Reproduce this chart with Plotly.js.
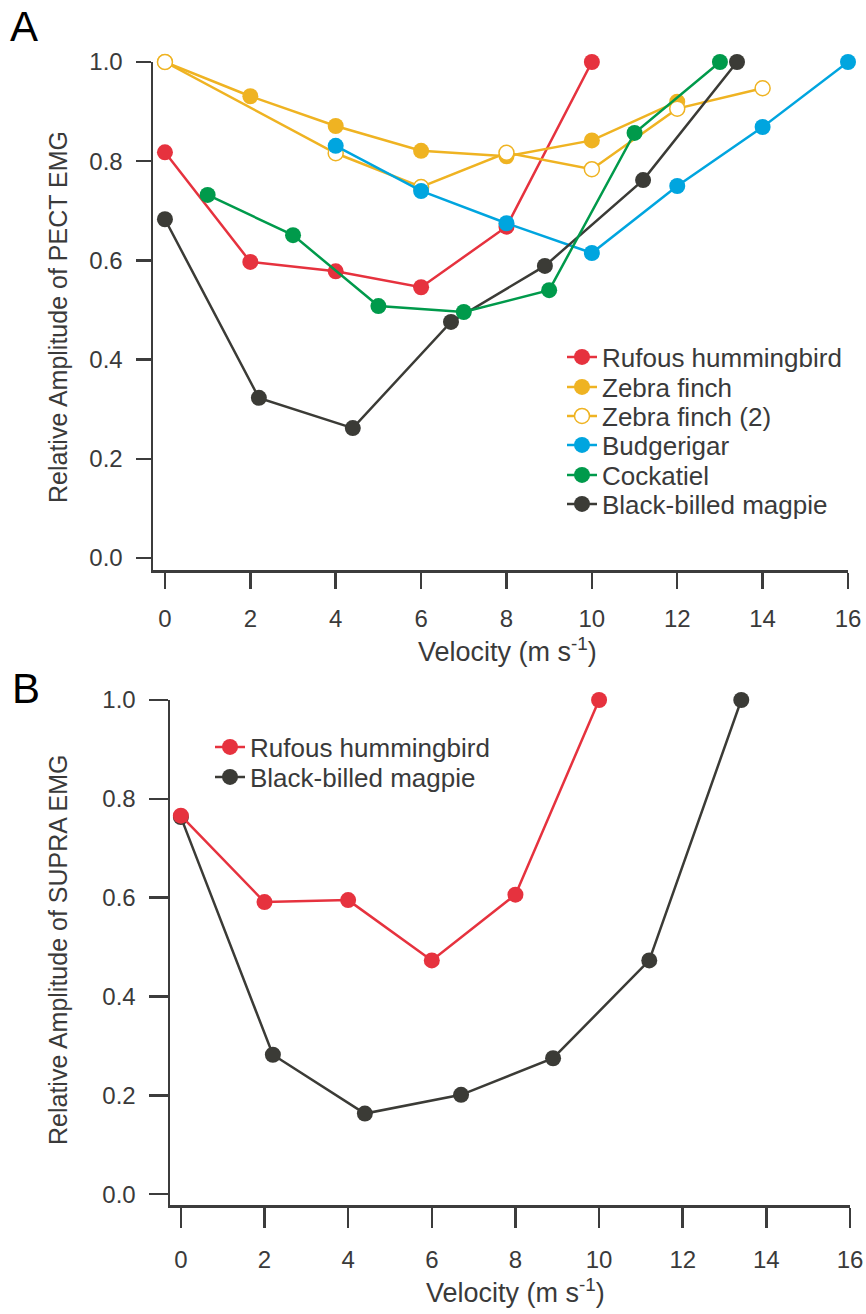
<!DOCTYPE html>
<html>
<head>
<meta charset="utf-8">
<script src="https://cdn.plot.ly/plotly-3.0.1.min.js"></script>
<style>html,body{margin:0;padding:0;background:#fff;}</style>
</head>
<body>
<div id="chart" style="width:866px;height:1314px;"></div>
<script>
// ---- Data: Panel A (PECT EMG) ----
const xTicks = [0, 2, 4, 6, 8, 10, 12, 14, 16];
const yTicks = [0, 0.2, 0.4, 0.6, 0.8, 1.0];

const rufousA_x = [0, 2, 4, 6, 8, 10];
const rufousA_y = [0.818, 0.597, 0.578, 0.546, 0.668, 1.0];

const zebra_x = [0, 2, 4, 6, 8, 10, 12];
const zebra_y = [1.0, 0.931, 0.871, 0.821, 0.810, 0.842, 0.920];

const zebra2_x = [0, 4, 6, 8, 10, 12, 14];
const zebra2_y = [1.0, 0.816, 0.748, 0.817, 0.784, 0.906, 0.947];

const budgie_x = [4, 6, 8, 10, 12, 14, 16];
const budgie_y = [0.831, 0.740, 0.675, 0.615, 0.750, 0.869, 1.0];

const cockatiel_x = [1, 3, 5, 7, 9, 11, 13];
const cockatiel_y = [0.732, 0.651, 0.508, 0.496, 0.540, 0.857, 1.0];

const magpieA_x = [0, 2.2, 4.4, 6.7, 8.9, 11.2, 13.4];
const magpieA_y = [0.683, 0.323, 0.262, 0.476, 0.589, 0.762, 1.0];

// ---- Data: Panel B (SUPRA EMG) ----
const rufousB_x = [0, 2, 4, 6, 8, 10];
const rufousB_y = [0.766, 0.591, 0.595, 0.473, 0.606, 1.0];

const magpieB_x = [0, 2.2, 4.4, 6.7, 8.9, 11.2, 13.4];
const magpieB_y = [0.763, 0.282, 0.163, 0.201, 0.275, 0.473, 1.0];

const names = ["Rufous hummingbird", "Zebra finch", "Zebra finch (2)", "Budgerigar", "Cockatiel", "Black-billed magpie"];

// ---- Styles ----
const RED = "#E6323E", YEL = "#EFB322", BLU = "#00A5DF", GRN = "#009A4B", BLK = "#3B3B36";
const TXT = "#3a3a3a";
const FONT = "Liberation Sans, Arial, Helvetica, sans-serif";
const W = 866, H = 1314;

function tr(x, y, name, color, xa, ya, legend, open) {
  return {
    type: "scatter", mode: "lines+markers", x: x, y: y, name: name,
    xaxis: xa, yaxis: ya, legend: legend, cliponaxis: false,
    line: {color: color, width: 2.5},
    marker: open ? {size: 15, color: "#ffffff", line: {color: color, width: 1.5}}
                 : {size: 16, color: color, line: {width: 0}},
    hoverinfo: "x+y"
  };
}

const data = [
  tr(rufousA_x, rufousA_y, names[0], RED, "x", "y", "legend", false),
  tr(zebra_x, zebra_y, names[1], YEL, "x", "y", "legend2", false),
  tr(zebra2_x, zebra2_y, names[2], YEL, "x", "y", "legend3", true),
  tr(budgie_x, budgie_y, names[3], BLU, "x", "y", "legend4", false),
  tr(magpieA_x, magpieA_y, names[5], BLK, "x", "y", "legend6", false),
  tr(cockatiel_x, cockatiel_y, names[4], GRN, "x", "y", "legend5", false),
  tr(magpieB_x, magpieB_y, names[5], BLK, "x2", "y2", "legend8", false),
  tr(rufousB_x, rufousB_y, names[0], RED, "x2", "y2", "legend7", false)
];

function xax(dom, anchor, rng, tl, so) {
  return {
    domain: dom, anchor: anchor, range: rng, tickvals: xTicks,
    showline: true, linecolor: "#3c3c3c", linewidth: 2.5,
    ticks: "outside", ticklen: tl, tickwidth: 2.5, tickcolor: "#3c3c3c",
    showgrid: false, zeroline: false, fixedrange: true,
    tickfont: {family: FONT, size: 24, color: TXT}, ticklabelstandoff: so
  };
}
function yax(dom, anchor, rng, tl) {
  return {
    domain: dom, anchor: anchor, range: rng, tickvals: yTicks, tickformat: ".1f",
    showline: true, linecolor: "#3c3c3c", linewidth: 2.5,
    ticks: "outside", ticklen: tl, tickwidth: 2.5, tickcolor: "#3c3c3c",
    showgrid: false, zeroline: false, fixedrange: true,
    tickfont: {family: FONT, size: 24, color: TXT}, ticklabelstandoff: 8
  };
}

function leg(xPx, yPx) {
  return {
    x: (xPx - 40) / W, y: 1 - yPx / H, xanchor: "left", yanchor: "middle",
    bgcolor: "rgba(0,0,0,0)", borderwidth: 0,
    font: {family: FONT, size: 26, color: TXT}, itemsizing: "trace"
  };
}

const layout = {
  width: W, height: H,
  margin: {l: 0, r: 0, t: 0, b: 0},
  paper_bgcolor: "#ffffff", plot_bgcolor: "#ffffff",
  font: {family: FONT, color: TXT},
  showlegend: true,
  xaxis: xax([153 / W, 848 / W], "y", [-0.28, 16], 16, 10),
  yaxis: yax([1 - 570 / H, 1 - 62 / H], "x", [-0.024, 1.0], 15),
  xaxis2: xax([170 / W, 850 / W], "y2", [-0.26, 16], 20, 12),
  yaxis2: yax([1 - 1205 / H, 1 - 700 / H], "x2", [-0.022, 1.0], 19),
  legend: leg(602, 357),
  legend2: leg(602, 387),
  legend3: leg(602, 416),
  legend4: leg(602, 445),
  legend5: leg(602, 475),
  legend6: leg(602, 504),
  legend7: leg(250, 747),
  legend8: leg(250, 777),
  annotations: [
    {text: "A", xref: "paper", yref: "paper", x: 8 / W, y: 1 - 26 / H, xanchor: "left", yanchor: "middle",
     showarrow: false, font: {family: FONT, size: 42, color: "#000000"}},
    {text: "B", xref: "paper", yref: "paper", x: 10 / W, y: 1 - 688 / H, xanchor: "left", yanchor: "middle",
     showarrow: false, font: {family: FONT, size: 42, color: "#000000"}},
    {text: "Relative Amplitude of PECT EMG", xref: "paper", yref: "paper", x: 58 / W, y: 1 - 317 / H,
     xanchor: "center", yanchor: "middle", textangle: -90, showarrow: false,
     font: {family: FONT, size: 25, color: TXT}},
    {text: "Relative Amplitude of SUPRA EMG", xref: "paper", yref: "paper", x: 58 / W, y: 1 - 950 / H,
     xanchor: "center", yanchor: "middle", textangle: -90, showarrow: false,
     font: {family: FONT, size: 25, color: TXT}},
    {text: "Velocity (m s<sup>-1</sup>)", xref: "paper", yref: "paper", x: 507 / W, y: 1 - 650 / H,
     xanchor: "center", yanchor: "middle", showarrow: false,
     font: {family: FONT, size: 27, color: TXT}},
    {text: "Velocity (m s<sup>-1</sup>)", xref: "paper", yref: "paper", x: 515 / W, y: 1 - 1291 / H,
     xanchor: "center", yanchor: "middle", showarrow: false,
     font: {family: FONT, size: 27, color: TXT}}
  ]
};

Plotly.newPlot("chart", data, layout, {displayModeBar: false, staticPlot: true});
</script>
</body>
</html>
